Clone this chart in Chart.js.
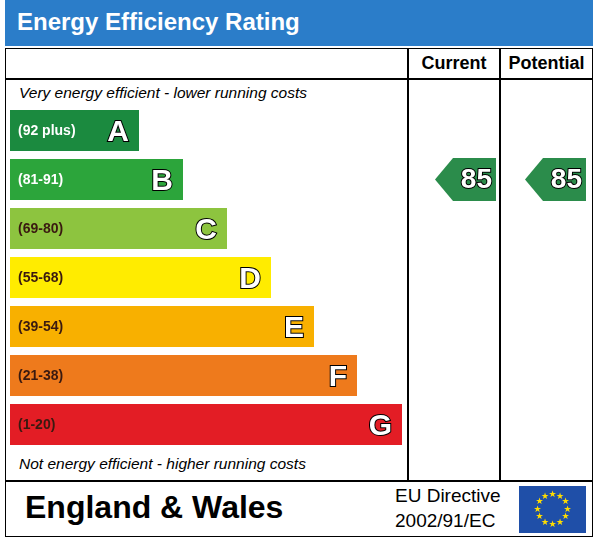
<!DOCTYPE html>
<html><head><meta charset="utf-8">
<script src="https://cdn.jsdelivr.net/npm/chart.js@4/dist/chart.umd.min.js"></script>
<style>
body{margin:0;width:598px;height:541px;position:relative;background:#fff;font-family:Arial,"Liberation Sans",sans-serif;overflow:hidden}
#c{position:absolute;left:0;top:0}
.abs{position:absolute}
</style></head><body>
<div class="abs" style="left:5px;top:0;width:588px;height:46px;background:#2b7dc9"></div>
<div class="abs" style="left:17px;top:8px;color:#fff;font-size:24px;font-weight:bold">Energy Efficiency Rating</div>
<div class="abs" style="left:5px;top:48px;width:586px;height:487px;border:1.5px solid #000"></div>
<div class="abs" style="left:407px;top:48px;width:1.5px;height:433px;background:#000"></div>
<div class="abs" style="left:499px;top:48px;width:1.5px;height:433px;background:#000"></div>
<div class="abs" style="left:5px;top:78px;width:588px;height:1.5px;background:#000"></div>
<div class="abs" style="left:5px;top:480px;width:588px;height:1.5px;background:#000"></div>
<div class="abs" style="left:408px;top:53px;width:92px;text-align:center;font-size:18px;font-weight:bold">Current</div>
<div class="abs" style="left:500px;top:53px;width:93px;text-align:center;font-size:18px;font-weight:bold">Potential</div>
<div class="abs" style="left:19px;top:84px;font-size:15.5px;font-style:italic">Very energy efficient - lower running costs</div>
<div class="abs" style="left:19px;top:455px;font-size:15.5px;font-style:italic">Not energy efficient - higher running costs</div>
<div class="abs" style="left:25px;top:489px;font-size:32px;font-weight:bold">England &amp; Wales</div>
<div class="abs" style="left:395px;top:485px;font-size:19px">EU Directive</div>
<div class="abs" style="left:395px;top:510px;font-size:19px">2002/91/EC</div>
<canvas id="c" width="598" height="541"></canvas>
<script>
const bands=["A","B","C","D","E","F","G"];
const ranges=["(92 plus)","(81-91)","(69-80)","(55-68)","(39-54)","(21-38)","(1-20)"];
const barLengths=[129,173,217,261,304,347,392];
const colors=["#1b8a3f","#2ca53b","#8dc43f","#ffec00","#f8b000","#ee7a1c","#e31d25"];
const currentRating=85, potentialRating=85, ratingBand=1;
const arrowColor="#2b8c4b";

const plug={id:'epc',afterDatasetsDraw(ch){
 const ctx=ch.ctx, meta=ch.getDatasetMeta(0), ys=ch.scales.y;
 meta.data.forEach((b,i)=>{
  ctx.save();
  ctx.font="bold 14px Arial, 'Liberation Sans'";
  ctx.textBaseline="middle";ctx.textAlign="left";
  ctx.fillStyle=i<=1?"#fff":"#3a1a10";
  ctx.fillText(ranges[i],b.base+8,b.y+1);
  ctx.font="bold 30px Arial, 'Liberation Sans'";
  ctx.textAlign="right";ctx.lineWidth=2;ctx.strokeStyle="#000";ctx.fillStyle="#fff";
  ctx.strokeText(bands[i],b.x-10,b.y+2);ctx.fillText(bands[i],b.x-10,b.y+2);
  ctx.restore();
 });
 const cy=ys.getPixelForValue(ratingBand);
 function arrow(x0,x1,val){
  const h=43;ctx.save();ctx.fillStyle=arrowColor;ctx.beginPath();
  ctx.moveTo(x0,cy);ctx.lineTo(x0+18,cy-h/2);ctx.lineTo(x1,cy-h/2);ctx.lineTo(x1,cy+h/2);ctx.lineTo(x0+18,cy+h/2);ctx.closePath();ctx.fill();
  ctx.font="bold 28px Arial, 'Liberation Sans'";ctx.fillStyle="#fff";ctx.strokeStyle="#000";ctx.lineWidth=2;
  ctx.textAlign="right";ctx.textBaseline="middle";
  ctx.strokeText(String(val),x1-4,cy+1);ctx.fillText(String(val),x1-4,cy+1);ctx.restore();
 }
 arrow(435,496,currentRating);arrow(525,586,potentialRating);
 // EU flag
 ctx.save();ctx.fillStyle="#1f4fa8";ctx.fillRect(519,486,67,47);
 ctx.fillStyle="#ffdd00";ctx.font="9px 'DejaVu Sans'";ctx.textAlign="center";ctx.textBaseline="middle";
 for(let k=0;k<12;k++){const a=k*Math.PI/6;ctx.fillText("★",552.5+15*Math.sin(a),509.5-15*Math.cos(a));}
 ctx.restore();
}};
new Chart(document.getElementById('c'),{type:'bar',
 data:{labels:bands,datasets:[{data:barLengths,backgroundColor:colors,barPercentage:0.84,categoryPercentage:1}]},
 options:{indexAxis:'y',responsive:false,animation:false,events:[],
  layout:{padding:{left:10,right:190,top:106,bottom:92}},
  plugins:{legend:{display:false},tooltip:{enabled:false}},
  scales:{x:{display:false,min:0,max:398},y:{display:false}}},
 plugins:[plug]});
</script></body></html>
